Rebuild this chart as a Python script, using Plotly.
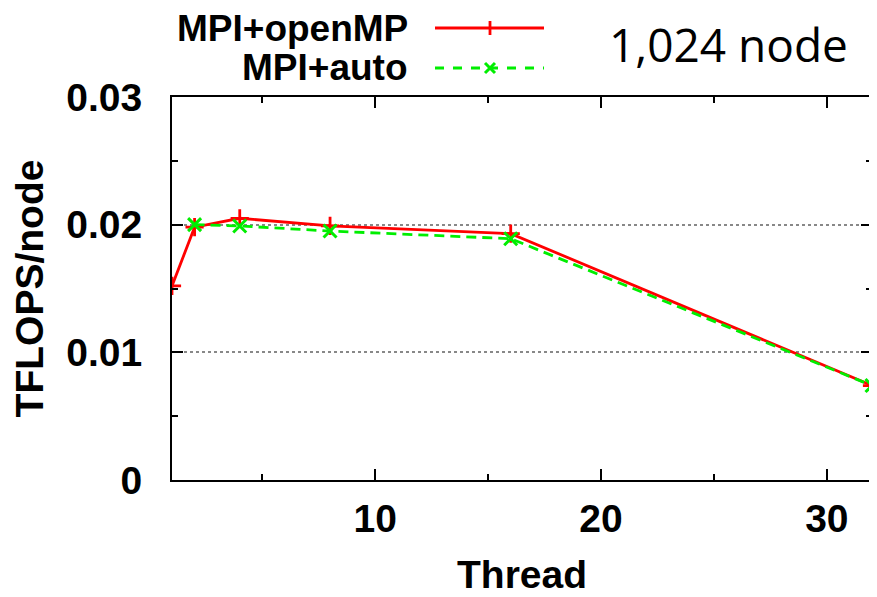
import plotly.graph_objects as go

threads_omp = [1, 2, 4, 8, 16, 32]
tflops_omp = [0.0152, 0.0198, 0.0205, 0.0199, 0.0193, 0.0074]
threads_auto = [2, 4, 8, 16, 32]
tflops_auto = [0.0200, 0.0199, 0.0195, 0.0189, 0.0074]
series_names = ["MPI+openMP", "MPI+auto"]
annotation_text = "1,024 node"
x_title = "Thread"
y_title = "TFLOPS/node"

RED = "#ff0000"
GREEN = "#00ee00"
FONT = dict(family="Liberation Sans, Arial, sans-serif", size=39, color="black", weight="bold")

OFF = 8  # page body margin
W, H = 877 - OFF, 597 - OFF
L, R, T, B = 172 - OFF, 5, 97 - OFF, 117
PW, PH = W - L - R, H - T - B

def px(x):  # screen pixel -> paper
    return (x - OFF - L) / PW

def py(y):
    return (OFF + T + PH - y) / PH

fig = go.Figure()
fig.add_trace(go.Scatter(
    x=threads_omp, y=tflops_omp, mode="lines+markers", name=series_names[0],
    line=dict(color=RED, width=2.8),
    marker=dict(symbol="cross-thin", size=13, line=dict(color=RED, width=2.8)),
    showlegend=False))
fig.add_trace(go.Scatter(
    x=threads_auto, y=tflops_auto, mode="lines+markers", name=series_names[1],
    line=dict(color=GREEN, width=2.8, dash="10px,6px"),
    marker=dict(symbol="x-thin", size=13, line=dict(color=GREEN, width=3)),
    showlegend=False))

# manual legend: text on the left, line sample + marker on the right
leg_y = [28, 68]
leg_col = [RED, GREEN]
leg_dash = ["solid", "dash"]
for yy, col, dash, name in zip(leg_y, leg_col, leg_dash, series_names):
    fig.add_shape(type="line", xref="paper", yref="paper",
                  x0=px(435), x1=px(544), y0=py(yy), y1=py(yy),
                  line=dict(color=col, width=2.8, dash=dash))
    fig.add_annotation(x=px(410), y=py(yy), xref="paper", yref="paper",
                       xanchor="right", yanchor="middle", text=name,
                       showarrow=False, font=dict(FONT, size=37))
# legend markers
fig.add_shape(type="line", xref="paper", yref="paper",
              x0=px(490), x1=px(490), y0=py(leg_y[0] - 7), y1=py(leg_y[0] + 7),
              line=dict(color=RED, width=2.8))
fig.add_shape(type="path", xref="paper", yref="paper",
              path=(f"M {px(485)} {py(leg_y[1]-5)} L {px(495)} {py(leg_y[1]+5)} "
                    f"M {px(485)} {py(leg_y[1]+5)} L {px(495)} {py(leg_y[1]-5)}"),
              line=dict(color=GREEN, width=3))

fig.add_annotation(x=px(728), y=py(44), xref="paper", yref="paper",
                   xanchor="center", yanchor="middle", text=annotation_text,
                   showarrow=False,
                   font=dict(family="Open Sans, Noto Sans, sans-serif", size=46, color="black"))

axis_common = dict(showline=True, linecolor="black", linewidth=2, mirror="ticks",
                   ticks="inside", tickcolor="black", tickwidth=2, ticklen=11,
                   tickfont=FONT, zeroline=False, automargin=False)

fig.update_layout(
    width=W, height=H,
    margin=dict(l=L, r=R, t=T, b=B, autoexpand=False),
    plot_bgcolor="white", paper_bgcolor="white",
    xaxis=dict(axis_common, range=[1, 32], tick0=0, dtick=10, showgrid=False,
               minor=dict(dtick=5, ticks="inside", ticklen=6, tickcolor="black", tickwidth=2),
               ticklabelstandoff=3,
               title=dict(text=x_title, font=FONT, standoff=22)),
    yaxis=dict(axis_common, range=[0, 0.03],
               tickvals=[0, 0.01, 0.02, 0.03], ticktext=["0", "0.01", "0.02", "0.03"],
               showgrid=True, gridcolor="#888888", griddash="dot", gridwidth=1.5,
               minor=dict(dtick=0.005, ticks="inside", ticklen=6, tickcolor="black", tickwidth=2),
               ticklabelstandoff=20,
               title=dict(text=y_title, font=FONT, standoff=16)),
)

fig.write_html("out.html")
